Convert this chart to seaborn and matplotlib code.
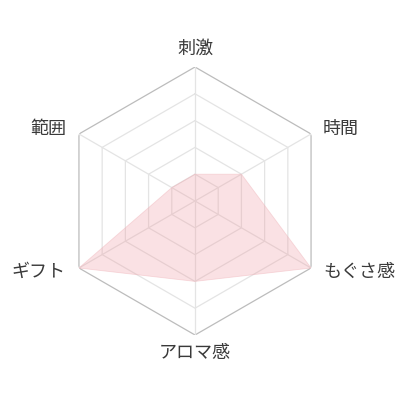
import numpy as np
import matplotlib
matplotlib.use("Agg")
import matplotlib.pyplot as plt
import seaborn as sns

sns.set_theme(style="white")
plt.rcParams['font.family'] = ['Noto Sans CJK JP', 'DejaVu Sans']

categories = ["刺激", "時間", "もぐさ感", "アロマ感", "ギフト", "範囲"]
values = [1, 2, 5, 3, 5, 1]
levels = [1, 2, 3, 4, 5]
max_val = 5

n = len(categories)
angles = np.linspace(0, 2 * np.pi, n, endpoint=False)
closed_angles = np.concatenate([angles, angles[:1]])

fig = plt.figure(figsize=(4, 4), dpi=100)
ax = fig.add_axes([0.1525, 0.1625, 0.67, 0.67], projection="polar")
ax.set_theta_zero_location("N")
ax.set_theta_direction(-1)
ax.set_ylim(0, max_val)
ax.grid(False)
ax.spines["polar"].set_visible(False)
ax.set_xticks([])
ax.set_yticks([])
ax.patch.set_alpha(0)

# hexagonal grid rings
for lv in levels:
    col = "#bcbcbc" if lv == max_val else "#e4e4e4"
    ax.plot(closed_angles, [lv] * (n + 1), color=col, lw=0.9, zorder=1)
# spokes
for a in angles:
    ax.plot([a, a], [0, max_val], color="#e4e4e4", lw=0.9, zorder=1)

# data polygon
vals = values + values[:1]
ax.fill(closed_angles, vals, color="#f0969f", alpha=0.28, lw=0, zorder=2)
ax.plot(closed_angles, vals, color="#f0b7bd", lw=0.6, alpha=0.5, zorder=2)

# labels
offsets = {
    0: (0, 18, "center"),
    1: (12, 5, "left"),
    2: (12, -4, "left"),
    3: (0, -18, "center"),
    4: (-14, -4, "right"),
    5: (-13, 5, "right"),
}
for i, (a, lab) in enumerate(zip(angles, categories)):
    dx, dy, ha = offsets[i]
    ax.annotate(lab, xy=(a, max_val), xytext=(dx, dy), textcoords="offset pixels",
                ha=ha, va="center", fontsize=13, color="#3a3a3a", annotation_clip=False)

fig.savefig("out.png", dpi=100, facecolor="white")
